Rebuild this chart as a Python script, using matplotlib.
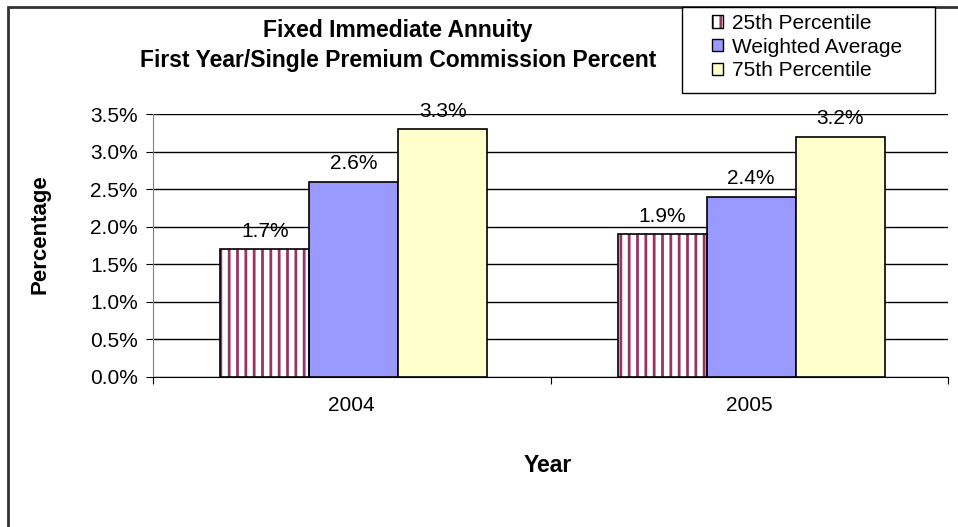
import numpy as np
import matplotlib
matplotlib.use("Agg")
import matplotlib.pyplot as plt
from matplotlib.patches import Patch, Rectangle

years = ["2004", "2005"]
series = ["25th Percentile", "Weighted Average", "75th Percentile"]
p25 = [1.7, 1.9]
wavg = [2.6, 2.4]
p75 = [3.3, 3.2]

colors = ["white", "#9999FF", "#FFFFCC"]
hatch_color = "#993366"

plt.rcParams["font.family"] = ["Liberation Sans", "DejaVu Sans"]
plt.rcParams["hatch.linewidth"] = 2.0

W, H = 958, 527
fig = plt.figure(figsize=(W / 100, H / 100), dpi=100)
ax = fig.add_axes([153 / W, 1 - 377 / H, 795 / W, 263 / H])

x = np.arange(len(years))
bw = 0.224
offsets = [-bw, 0, bw]
values = [p25, wavg, p75]

for k, (vals, off) in enumerate(zip(values, offsets)):
    v = np.array(vals) / 100
    if k == 0:
        # hatch layer then outline
        ax.bar(x + off + 0.005, v, bw, color="white", edgecolor=hatch_color,
               hatch="||", linewidth=0, zorder=3)
        ax.bar(x + off + 0.005, v, bw, fill=False, edgecolor="black",
               linewidth=1.2, zorder=4)
    else:
        ax.bar(x + off + 0.005, v, bw, color=colors[k], edgecolor="black",
               linewidth=1.2, zorder=3)
    for xi, vi in zip(x + off + 0.005, vals):
        ax.annotate("{:.1f}%".format(vi), (xi, vi / 100),
                    xytext=(0, 6), textcoords="offset points",
                    ha="center", va="bottom", fontsize=15)

ticks = np.arange(0, 0.0351, 0.005)
ax.set_xlim(-0.5, 1.5)
ax.set_ylim(0, 0.035)
ax.set_yticks(ticks)
ax.set_yticklabels(["{:.1f}%".format(t * 100) for t in ticks], fontsize=15)
ax.yaxis.grid(True, color="black", linewidth=1)
ax.set_axisbelow(True)

ax.set_xticks([-0.5, 0.5, 1.5])
ax.set_xticklabels([])
ax.set_xticks(x, minor=True)
ax.set_xticklabels(years, minor=True, fontsize=15)
ax.tick_params(axis="x", which="minor", length=0, pad=14)
ax.tick_params(axis="x", which="major", length=5, direction="out")
ax.tick_params(axis="y", length=5, direction="out", pad=6)

for s in ["top", "right"]:
    ax.spines[s].set_visible(False)
ax.spines["left"].set_color("#808080")
ax.spines["bottom"].set_color("black")

fig.text(40 / W, 1 - 234 / H, "Percentage", rotation=90,
         ha="center", va="center", fontsize=16, fontweight="bold")
fig.text(548 / W, 1 - 466 / H, "Year", ha="center", va="center",
         fontsize=16.5, fontweight="bold")
fig.text(398 / W, 1 - 30 / H, "Fixed Immediate Annuity", ha="center",
         va="center", fontsize=16.5, fontweight="bold")
fig.text(398 / W, 1 - 60 / H, "First Year/Single Premium Commission Percent",
         ha="center", va="center", fontsize=16.5, fontweight="bold")

# outer chart frame
fig.patches.append(Rectangle((8 / W, -0.1), 1.2, 1 - 7 / H + 0.1,
                             transform=fig.transFigure, fill=False,
                             edgecolor="#333333", linewidth=2))
# legend frame
fig.patches.append(Rectangle((682 / W, 1 - 93 / H), 253 / W, 86 / H,
                             transform=fig.transFigure, facecolor="white",
                             edgecolor="black", linewidth=1, zorder=5))

handles = [
    (Patch(facecolor="white", edgecolor=hatch_color, hatch="||", linewidth=0),
     Patch(fill=False, edgecolor="black")),
    Patch(facecolor=colors[1], edgecolor="black"),
    Patch(facecolor=colors[2], edgecolor="black"),
]
leg = fig.legend(handles, series, loc="upper left",
                 bbox_to_anchor=(712 / W, 1 - 14 / H), fontsize=15,
                 handlelength=0.55, handleheight=0.55, handletextpad=0.4,
                 labelspacing=0.22, borderpad=0, borderaxespad=0,
                 frameon=False)
leg.set_zorder(6)

fig.savefig("out.png", dpi=100)
